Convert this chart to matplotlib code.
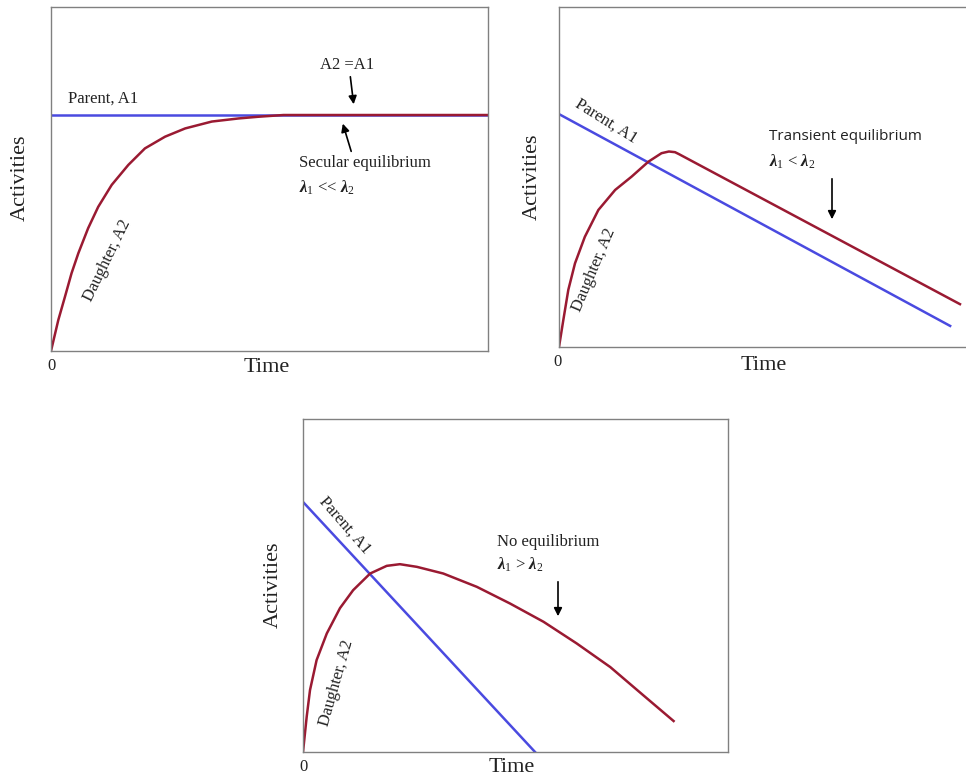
import matplotlib
matplotlib.use("Agg")
import matplotlib.pyplot as plt

plt.rcParams['font.family'] = ['Liberation Serif', 'DejaVu Serif']
plt.rcParams['mathtext.fontset'] = 'custom'
plt.rcParams['mathtext.rm'] = 'Liberation Serif'
plt.rcParams['mathtext.it'] = 'Liberation Serif:italic:bold'
plt.rcParams['mathtext.bf'] = 'Liberation Serif:bold'

BLUE = '#4a4ae0'
RED = '#9a1a32'

# ---- data (fractions of each panel's axes) ----
# secular equilibrium
sec_parent_x = [0.0, 1.0]
sec_parent_y = [0.686, 0.686]
sec_daughter_x = [0.0, 0.0167, 0.032, 0.047, 0.0625, 0.085, 0.108, 0.139, 0.177,
                  0.215, 0.261, 0.307, 0.368, 0.429, 0.475, 0.532, 0.70, 1.0]
sec_daughter_y = [0.0, 0.090, 0.158, 0.226, 0.284, 0.357, 0.419, 0.483, 0.541,
                  0.589, 0.623, 0.647, 0.667, 0.676, 0.681, 0.686, 0.686, 0.686]

# transient equilibrium
tr_parent_x = [0.0, 0.954]
tr_parent_y = [0.685, 0.062]
tr_daughter_x = [0.0, 0.0105, 0.0227, 0.039, 0.063, 0.096, 0.137, 0.177, 0.218,
                 0.250, 0.268, 0.283, 0.293, 0.978]
tr_daughter_y = [0.0, 0.079, 0.168, 0.246, 0.324, 0.403, 0.462, 0.501, 0.545,
                 0.570, 0.575, 0.573, 0.567, 0.126]

# no equilibrium
no_parent_x = [0.0, 0.546]
no_parent_y = [0.751, 0.0]
no_daughter_x = [0.0, 0.0087, 0.0165, 0.032, 0.056, 0.087, 0.118, 0.158, 0.197, 0.228,
                 0.268, 0.330, 0.409, 0.487, 0.566, 0.644, 0.723, 0.801, 0.872]
no_daughter_y = [0.0, 0.106, 0.186, 0.276, 0.356, 0.432, 0.486, 0.536, 0.559, 0.564,
                 0.556, 0.536, 0.496, 0.446, 0.391, 0.326, 0.255, 0.170, 0.093]

W, H = 966, 780
fig = plt.figure(figsize=(W / 100, H / 100), dpi=100)


def px_axes(left, top, right, bottom):
    return fig.add_axes([left / W, 1 - bottom / H, (right - left) / W, (bottom - top) / H])


def fpos(x, y):
    return (x / W, 1 - y / H)


def setup(ax, time_xy, act_xy, zero_xy):
    ax.set_xlim(0, 1)
    ax.set_ylim(0, 1)
    ax.set_xticks([])
    ax.set_yticks([])
    for s in ax.spines.values():
        s.set_color('#808080')
        s.set_linewidth(1.0)
    fig.text(*fpos(*time_xy), "Time", fontsize=16, ha='center', va='center', color='#222222')
    fig.text(*fpos(*act_xy), "Activities", fontsize=16, ha='center', va='center',
             rotation=90, color='#222222')
    fig.text(*fpos(*zero_xy), "0", fontsize=12, ha='center', va='center', color='#222222')


def arrow(x0, y0, x1, y1):
    fig.add_artist(matplotlib.patches.FancyArrowPatch(
        fpos(x0, y0), fpos(x1, y1), transform=fig.transFigure,
        arrowstyle='-|>', mutation_scale=12, color='black', lw=1.2))


def label(x, y, s, rot=0, **kw):
    fig.text(*fpos(x, y), s, fontsize=12, rotation=rot, va='center',
             color='#222222', rotation_mode='anchor' if rot else 'default', **kw)


# ---- top-left: secular ----
ax1 = px_axes(51, 7, 488, 351)
ax1.plot(sec_parent_x, sec_parent_y, color=BLUE, lw=1.8)
ax1.plot(sec_daughter_x, sec_daughter_y, color=RED, lw=1.8)
setup(ax1, (267, 368), (20, 178), (51, 366))
label(68, 99, "Parent, A1")
label(107, 261, "Daughter, A2", rot=64, ha='center')
label(347, 65, "A2 =A1", ha='center')
arrow(350, 74, 354, 107)
arrow(352, 154, 342, 121)
label(299, 163, "Secular equilibrium")
label(299, 188, r"$\lambda_1$ << $\lambda_2$")

# ---- top-right: transient ----
ax2 = px_axes(559, 7, 969, 347)
ax2.plot(tr_parent_x, tr_parent_y, color=BLUE, lw=1.8)
ax2.plot(tr_daughter_x, tr_daughter_y, color=RED, lw=1.8)
setup(ax2, (764, 365), (532, 177), (558, 362))
label(606, 121, "Parent, A1", rot=-32, ha='center')
label(594, 270, "Daughter, A2", rot=67, ha='center')
fig.text(*fpos(769, 137), "Transient equilibrium", fontsize=11, va='center',
         family=['Open Sans', 'DejaVu Sans'], color='#222222')
label(769, 162, r"$\lambda_1$ < $\lambda_2$")
arrow(832, 176, 832, 222)

# ---- bottom: no equilibrium ----
ax3 = px_axes(303, 419, 728, 752)
ax3.plot(no_parent_x, no_parent_y, color=BLUE, lw=1.8)
ax3.plot(no_daughter_x, no_daughter_y, color=RED, lw=1.8)
setup(ax3, (512, 768), (273, 585), (303, 767))
label(345, 525, "Parent, A1", rot=-49, ha='center')
label(337, 683, "Daughter, A2", rot=74, ha='center')
label(497, 542, "No equilibrium")
label(497, 565, r"$\lambda_1$ > $\lambda_2$")
arrow(558, 579, 558, 619)

fig.savefig("out.png", dpi=100)
